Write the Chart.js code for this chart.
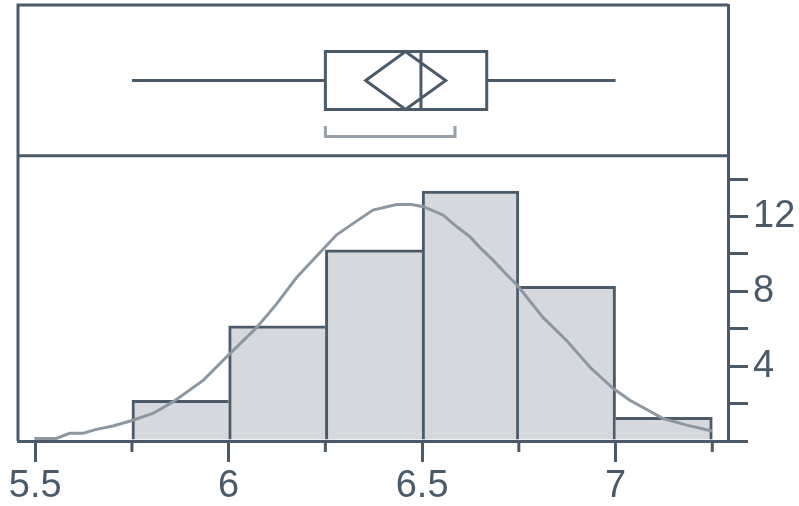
<!DOCTYPE html>
<html><head><meta charset="utf-8">
<script src="https://cdn.jsdelivr.net/npm/chart.js@4/dist/chart.umd.min.js"></script>
<style>html,body{margin:0;padding:0;background:#fff}#wrap{width:799px;height:506px;position:relative}</style>
</head><body><div id="wrap"><canvas id="c"></canvas></div>
<script>
// ---- data ----
const binCenters = [5.875, 6.125, 6.375, 6.625, 6.875, 7.125];
const binHeights = [2.17, 6.15, 10.22, 13.35, 8.26, 1.26];
const curveX = [5.498, 5.554, 5.589, 5.623, 5.658, 5.701, 5.748, 5.804, 5.856, 5.934, 5.998, 6.072, 6.123, 6.175, 6.227, 6.279, 6.322, 6.373, 6.434, 6.473, 6.503, 6.554, 6.589, 6.623, 6.649, 6.684, 6.718, 6.744, 6.813, 6.874, 6.934, 6.994, 7.037, 7.123, 7.184, 7.249];
const curveY = [0.14, 0.14, 0.41, 0.41, 0.62, 0.80, 1.08, 1.47, 2.09, 3.24, 4.56, 6.06, 7.30, 8.72, 9.87, 11.02, 11.63, 12.34, 12.64, 12.64, 12.52, 12.08, 11.46, 10.93, 10.35, 9.65, 8.90, 8.37, 6.59, 5.36, 3.94, 2.80, 2.18, 1.20, 0.85, 0.53];
const xTickValues = [5.5, 5.75, 6, 6.25, 6.5, 6.75, 7, 7.25];
const xLabelValues = [5.5, 6, 6.5, 7];
const yTickValues = [0, 2, 4, 6, 8, 10, 12, 14];
const yLabelValues = [4, 8, 12];
const whiskerLow = 5.75, q1 = 6.25, median = 6.497, q3 = 6.667, whiskerHigh = 7.0;
const mean = 6.457, meanCILow = 6.354, meanCIHigh = 6.561;
const shortestHalfLow = 6.25, shortestHalfHigh = 6.585;

// ---- styles ----
const SLATE = '#4b5a69';
const CURVE = '#8d97a1';
const BRACKET = '#979fa8';
const FILL = '#d5d9de';
const FONT = {family: '"Liberation Sans", Arial, sans-serif', size: 38, lineHeight: 1.1};

const histData = binCenters.map((x, i) => ({x, y: binHeights[i]}));
const curveData = curveX.map((x, i) => ({x, y: curveY[i]}));

function barBorder(ctx) {
  const i = ctx.dataIndex, h = binHeights;
  const n = h.length;
  return {
    top: 3,
    bottom: 0,
    left: (i === 0 || h[i] >= h[i - 1]) ? 3 : 0,
    right: (i === n - 1 || h[i] > h[i + 1]) ? 3 : 0
  };
}

const boxPlugin = {
  id: 'boxPanel',
  afterDraw(chart) {
    const {ctx, chartArea: a, scales: {x}} = chart;
    const top = a.top;
    const P = v => x.getPixelForValue(v);
    ctx.save();
    ctx.lineWidth = 3;
    ctx.strokeStyle = SLATE;
    ctx.lineCap = 'butt';
    // frame left + top + divider
    ctx.beginPath();
    ctx.moveTo(a.left, a.bottom);
    ctx.lineTo(a.left, top);
    ctx.lineTo(a.right, top);
    ctx.moveTo(a.left, top + 150.7);
    ctx.lineTo(a.right, top + 150.7);
    ctx.stroke();
    // minor x ticks
    ctx.beginPath();
    xTickValues.filter(v => !xLabelValues.includes(v)).forEach(v => {
      ctx.moveTo(P(v), a.bottom);
      ctx.lineTo(P(v), a.bottom + 11);
    });
    ctx.stroke();
    // box plot
    const bTop = top + 46.5, bBot = top + 104.5, mid = top + 75.5;
    ctx.beginPath();
    ctx.rect(P(q1), bTop, P(q3) - P(q1), bBot - bTop);
    ctx.moveTo(P(median), bTop); ctx.lineTo(P(median), bBot);
    ctx.moveTo(P(whiskerLow), mid); ctx.lineTo(P(q1), mid);
    ctx.moveTo(P(q3), mid); ctx.lineTo(P(whiskerHigh), mid);
    ctx.moveTo(P(meanCILow), mid);
    ctx.lineTo(P(mean), bTop);
    ctx.lineTo(P(meanCIHigh), mid);
    ctx.lineTo(P(mean), bBot);
    ctx.closePath();
    ctx.stroke();
    // shortest half bracket
    ctx.strokeStyle = BRACKET;
    ctx.beginPath();
    ctx.moveTo(P(shortestHalfLow), top + 121);
    ctx.lineTo(P(shortestHalfLow), top + 131.5);
    ctx.lineTo(P(shortestHalfHigh), top + 131.5);
    ctx.lineTo(P(shortestHalfHigh), top + 121);
    ctx.stroke();
    ctx.restore();
  }
};

new Chart(document.getElementById('c'), {
  type: 'bar',
  data: {
    datasets: [
      {
        type: 'line', data: curveData, borderColor: CURVE, borderWidth: 3,
        pointRadius: 0, tension: 0, order: 0
      },
      {
        type: 'bar', data: histData, backgroundColor: FILL, borderColor: SLATE,
        borderWidth: barBorder, borderSkipped: false,
        barPercentage: 1, categoryPercentage: 1, order: 1
      }
    ]
  },
  options: {
    responsive: true, maintainAspectRatio: false, animation: false,
    layout: {padding: {left: 18, top: 5, right: 0, bottom: 0}},
    plugins: {legend: {display: false}, tooltip: {enabled: false}},
    scales: {
      x: {
        type: 'linear', offset: false, min: 5.4555, max: 7.2906,
        afterBuildTicks: s => { s.ticks = xTickValues.map(v => ({value: v})); },
        afterFit: s => { s.height = 65; s.paddingLeft = 0; s.paddingRight = 0; },
        ticks: {
          autoSkip: false, maxRotation: 0, minRotation: 0, padding: 4,
          color: SLATE, font: FONT,
          callback: v => xLabelValues.includes(v) ? String(v) : ''
        },
        grid: {
          offset: false, drawOnChartArea: false, drawTicks: true, tickLength: 21, lineWidth: 3,
          color: c => (c.tick && xLabelValues.includes(c.tick.value)) ? SLATE : 'rgba(0,0,0,0)'
        },
        border: {display: true, color: SLATE, width: 3}
      },
      y: {
        position: 'right', min: 0, max: 23.3,
        afterBuildTicks: s => { s.ticks = yTickValues.map(v => ({value: v})); },
        afterFit: s => { s.width = 71; s.paddingTop = 0; s.paddingBottom = 0; },
        ticks: {
          padding: 5, color: SLATE, font: FONT,
          callback: v => yLabelValues.includes(v) ? String(v) : ''
        },
        grid: {drawOnChartArea: false, drawTicks: true, tickLength: 20, lineWidth: 3, color: SLATE},
        border: {display: true, color: SLATE, width: 3}
      }
    }
  },
  plugins: [boxPlugin]
});
</script></body></html>
